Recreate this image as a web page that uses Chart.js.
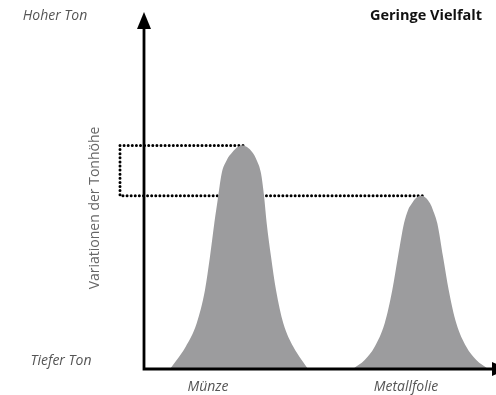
<!DOCTYPE html>
<html>
<head>
<meta charset="utf-8">
<script src="https://cdn.jsdelivr.net/npm/chart.js@4"></script>
<style>
  html, body { margin: 0; padding: 0; background: #fff; }
  #wrap { width: 496px; height: 395px; position: relative; }
</style>
</head>
<body>
<div id="wrap"><canvas id="chart"></canvas></div>
<script>
// Tonhöhe (0-100) entlang der Materialachse
const muenzeX = [2.6, 3.27, 4.17, 5.27, 6.1, 6.6, 7.03, 7.43, 7.77, 8.27, 8.83, 9.33, 9.83,
                 10.33, 10.83, 11.27, 11.7, 12.0, 12.27, 12.7, 13.2, 13.93, 14.93, 15.77, 16.4];
const muenzeY = [0, 2.5, 6.2, 12.8, 22.1, 31.5, 40.8, 48.5, 54.8, 58.5, 60.7, 62.1, 62.6,
                 62.1, 60.7, 58.5, 54.8, 48.5, 40.8, 31.5, 22.1, 12.8, 6.2, 2.5, 0];
const folieX = [20.9, 22.07, 23.07, 24.07, 24.83, 25.4, 26.0, 26.4, 26.8, 27.2, 27.7,
                28.2, 28.6, 28.9, 29.33, 29.9, 30.47, 31.23, 32.23, 33.23, 34.4];
const folieY = [0, 2.5, 6.2, 12.8, 22.1, 31.5, 40.8, 44.5, 46.4, 47.9, 48.5,
                47.9, 46.4, 44.5, 40.8, 31.5, 22.1, 12.8, 6.2, 2.5, 0];

// Spannweite zwischen den beiden Spitzen
const rangeX = [9.9, -2.4, -2.4, 27.9];
const rangeY = [62.6, 62.6, 48.5, 48.5];

const categories = ['Münze', 'Metallfolie'];
const categoryX = [6.4, 26.2];
const pitchLabels = ['Hoher Ton', 'Tiefer Ton'];

const toPoints = (xs, ys) => xs.map((x, i) => ({ x, y: ys[i] }));

const peak = (xs, ys) => ({
  data: toPoints(xs, ys),
  borderWidth: 0,
  borderColor: 'rgba(0,0,0,0)',
  backgroundColor: '#9c9c9e',
  fill: 'origin',
  pointRadius: 0,
  cubicInterpolationMode: 'monotone'
});

const axesPlugin = {
  id: 'axes',
  afterDatasetsDraw(chart) {
    const { ctx, scales: { x, y }, chartArea } = chart;
    const x0 = x.getPixelForValue(0);
    const y0 = y.getPixelForValue(0);
    ctx.save();
    ctx.strokeStyle = '#000';
    ctx.fillStyle = '#000';
    ctx.lineWidth = 2.8;
    ctx.beginPath();
    ctx.moveTo(x0, y0);
    ctx.lineTo(x0, chartArea.top + 14);
    ctx.moveTo(x0 - 1.4, y0);
    ctx.lineTo(chart.width, y0);
    ctx.stroke();
    // Pfeilspitzen
    ctx.beginPath();
    ctx.moveTo(x0, chartArea.top);
    ctx.lineTo(x0 - 7, chartArea.top + 17);
    ctx.lineTo(x0 + 7, chartArea.top + 17);
    ctx.closePath();
    ctx.fill();
    ctx.beginPath();
    ctx.moveTo(chartArea.right - 2 + 17, y0);
    ctx.lineTo(chartArea.right - 2, y0 - 7);
    ctx.lineTo(chartArea.right - 2, y0 + 7);
    ctx.closePath();
    ctx.fill();
    ctx.restore();
  }
};

const labelPlugin = {
  id: 'labels',
  afterDraw(chart) {
    const { ctx, scales: { x } } = chart;
    ctx.save();
    ctx.textBaseline = 'middle';
    ctx.textAlign = 'center';
    ctx.fillStyle = '#555';
    ctx.font = 'italic 14px "Open Sans"';
    ctx.fillText(pitchLabels[0], 55, 16);
    ctx.fillText(pitchLabels[1], 61, 361);
    categories.forEach((c, i) => {
      ctx.fillText(c, x.getPixelForValue(categoryX[i]), 387);
    });
    ctx.fillStyle = '#111';
    ctx.font = 'bold 14.5px "Open Sans"';
    ctx.fillText('Geringe Vielfalt', 426, 16);
    ctx.fillStyle = '#666';
    ctx.font = '14px "Open Sans"';
    ctx.translate(95, 208);
    ctx.rotate(-Math.PI / 2);
    ctx.fillText('Variationen der Tonhöhe', 0, 0);
    ctx.restore();
  }
};

new Chart(document.getElementById('chart'), {
  type: 'line',
  data: {
    datasets: [
      peak(muenzeX, muenzeY),
      peak(folieX, folieY),
      {
        data: toPoints(rangeX, rangeY),
        borderColor: '#000',
        borderWidth: 3,
        borderDash: [0, 4.1],
        borderCapStyle: 'round',
        pointRadius: 0,
        fill: false,
        tension: 0
      }
    ]
  },
  options: {
    responsive: true,
    maintainAspectRatio: false,
    animation: false,
    layout: { padding: { left: 110, right: 2, top: 12, bottom: 26 } },
    plugins: { legend: { display: false }, tooltip: { enabled: false } },
    scales: {
      x: { type: 'linear', min: -3.4, max: 35, display: false },
      y: { min: 0, max: 100, display: false }
    }
  },
  plugins: [axesPlugin, labelPlugin]
});
</script>
</body>
</html>
